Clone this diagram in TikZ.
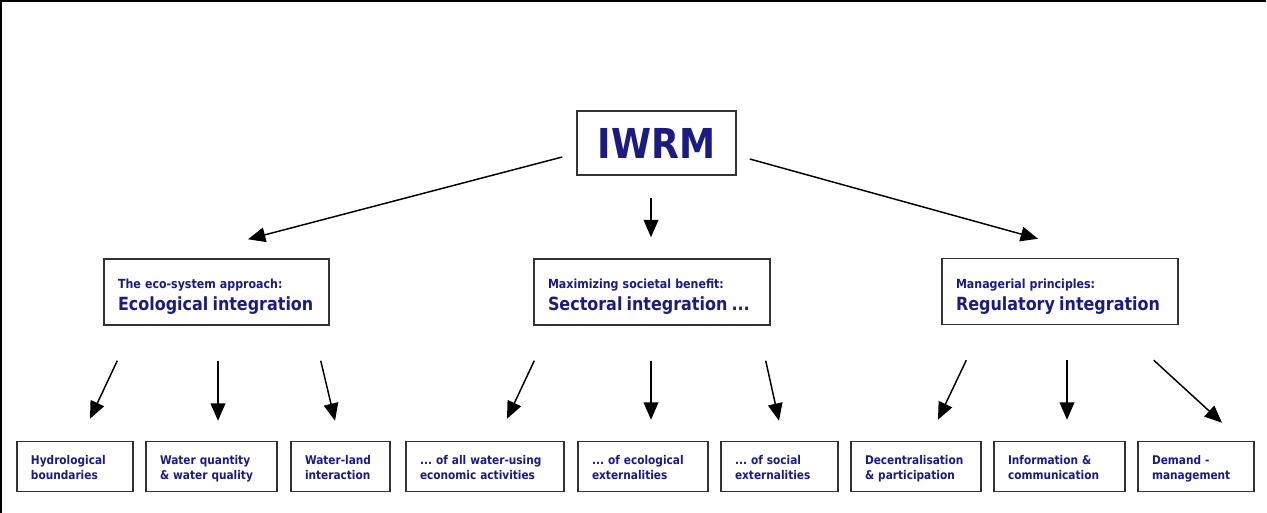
\documentclass[tikz,border=0pt]{standalone}
\usepackage{fontspec}
\newfontfamily\diagfont{DejaVu Sans}[FakeStretch=0.88]
\usetikzlibrary{arrows.meta,calc}
\definecolor{WaterNavy}{HTML}{1B1B80}
\definecolor{WaterFrame}{HTML}{333333}
\tikzset{
  link/.style={-{Triangle[length=13pt,width=11pt]}, line width=1.1pt, draw=black},
  box/.style={draw=WaterFrame, line width=1.1pt, fill=white, text=WaterNavy, inner sep=0pt},
  head/.style={box, minimum width=119.25pt, minimum height=48pt,
               font=\diagfont\bfseries\fontsize{30.9pt}{32pt}\selectfont},
  pillar/.style={box, align=left, inner xsep=10.5pt, minimum height=49.5pt,
                 text height=8pt, text depth=12.5pt,
                 font=\diagfont\bfseries\fontsize{9.4pt}{16.5pt}\selectfont},
  leaf/.style={box, align=left, inner xsep=10.5pt, minimum height=37.5pt,
               text height=8pt, text depth=10.25pt,
               font=\diagfont\bfseries\fontsize{9pt}{11pt}\selectfont},
  frame/.style={line width=1.2pt, draw=black},
}
\newcommand{\pillartitle}[1]{{\fontsize{13.6pt}{16.5pt}\selectfont #1}}

\begin{document}
\frenchspacing
\begin{tikzpicture}[x=0.75pt,y=0.75pt]
  \useasboundingbox (0,0) rectangle (1267,513);
  \fill[white] (0,0) rectangle (1267,513);
  \draw[frame] (1266,512) -- (1,512) -- (1,0);

  % top and the three pillars
  \node[head] (iwrm) at (656.5,370) {IWRM};
  \node[pillar, text width=147.75pt] (eco) at (216.5,221)
    {The eco-system approach:\\\pillartitle{Ecological integration}};
  \node[pillar, text width=156pt] (sect) at (652,221)
    {Maximizing societal benefit:\\\pillartitle{Sectoral integration ...}};
  \node[pillar, text width=156pt] (reg) at (1060,221.5)
    {Managerial principles:\\\pillartitle{Regulatory integration}};

  % leaves
  \node[leaf, text width=66pt]    (hyd)  at (75,46.5)   {Hydrological\\boundaries};
  \node[leaf, text width=77.25pt] (qual) at (211.5,46.5) {Water quantity\\\& water quality};
  \node[leaf, text width=53.25pt] (land) at (340.5,46.5) {Water-land\\interaction};
  \node[leaf, text width=97.5pt]  (econ) at (485,46.5)  {... of all water-using\\economic activities};
  \node[leaf, text width=76.5pt]  (ecol) at (643,46.5)  {... of ecological\\externalities};
  \node[leaf, text width=66.75pt] (soc)  at (779.5,46.5) {... of social\\externalities};
  \node[leaf, text width=76.5pt]  (dec)  at (916,46.5)  {Decentralisation\\\& participation};
  \node[leaf, text width=77.25pt] (info) at (1059.5,46.5) {Information \&\\communication};
  \node[leaf, text width=66pt]    (dem)  at (1196,46.5) {Demand -\\management};

  % arrows from IWRM
  \draw[link] ($(iwrm.west)+(-14,-14)$) -- ($(eco.north)+(31.5,19)$);
  \draw[link] ($(iwrm.south)+(-5.5,-22)$) -- ($(sect.north)+(-1,21)$);
  \draw[link] ($(iwrm.east)+(13,-16)$) -- ($(reg.north)+(-22,19)$);

  % arrows to the leaves
  \draw[link] ($(eco.south west)+(14,-35)$) -- ($(hyd.north)+(15,22)$);
  \draw[link] ($(eco.south)+(1.5,-35)$) -- ($(qual.north)+(6.5,20)$);
  \draw[link] ($(eco.south east)+(-9,-35)$) -- ($(land.north)+(-5.5,20)$);
  \draw[link] ($(sect.south west)+(1,-35)$) -- ($(econ.north)+(22,22)$);
  \draw[link] ($(sect.south)+(-1,-35)$) -- ($(ecol.north)+(8,21)$);
  \draw[link] ($(sect.south east)+(-5,-35)$) -- ($(soc.north)+(-0.5,20)$);
  \draw[link] ($(reg.south west)+(25,-35)$) -- ($(dec.north)+(22,21)$);
  \draw[link] ($(reg.south)+(7,-35)$) -- ($(info.north)+(7.5,21)$);
  \draw[link] ($(reg.south east)+(-25,-35)$) -- ($(dem.north)+(26,18)$);
\end{tikzpicture}
\end{document}
